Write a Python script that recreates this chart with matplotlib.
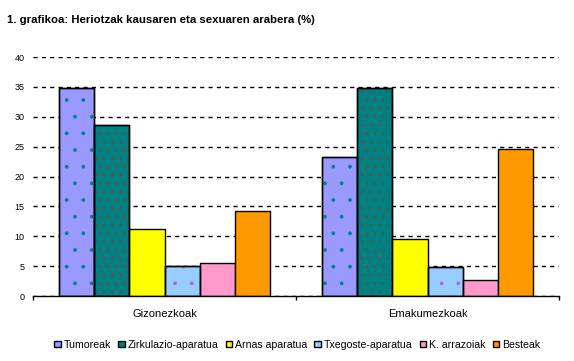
import numpy as np
import matplotlib.pyplot as plt
from matplotlib.patches import Patch

plt.rcParams['font.family'] = ['Liberation Sans', 'DejaVu Sans']
plt.rcParams['hatch.linewidth'] = 0.25

groups = ['Gizonezkoak', 'Emakumezkoak']
causes = ['Tumoreak', 'Zirkulazio-aparatua', 'Arnas aparatua',
          'Txegoste-aparatua', 'K. arrazoiak', 'Besteak']
men = [34.8, 28.6, 11.2, 5.1, 5.6, 14.3]
women = [23.2, 34.9, 9.5, 4.9, 2.7, 24.6]
colors = ['#9999FF', '#008080', '#FFFF00', '#99CCFF', '#FF99CC', '#FF9900']
hatch_cols = ['#008080', '#993333', None, '#9966FF', None, None]
hatches = ['.', '..', None, '.', None, None]

fig = plt.figure(figsize=(5.74, 3.61), dpi=100)
ax = fig.add_axes([0.0575, 0.18, 0.9165, 0.662])

width = 0.8 / 6
x = np.arange(len(groups))
for i, cause in enumerate(causes):
    vals = [men[i], women[i]]
    pos = x - 0.4 + width * (i + 0.5)
    ax.bar(pos, vals, width, color=colors[i], edgecolor='black', linewidth=1, zorder=3)
    if hatch_cols[i]:
        ax.bar(pos, vals, width, color='none', edgecolor=hatch_cols[i],
               linewidth=0, hatch=hatches[i], zorder=3.5)
        ax.bar(pos, vals, width, color='none', edgecolor='black', linewidth=1, zorder=3.6)

ax.set_xlim(-0.5, 1.5)
ax.set_ylim(0, 40)
ax.set_yticks(range(0, 41, 5))
ax.set_xticks([-0.5, 0.5, 1.5])
ax.set_xticklabels([])
ax.set_xticks(x, minor=True)
ax.set_xticklabels(groups, minor=True, fontsize=8)
ax.tick_params(axis='x', which='minor', length=0, pad=9)
ax.tick_params(axis='x', which='major', length=3, width=1, direction='out')
ax.tick_params(axis='y', length=0, labelsize=6.5, pad=6)
ax.yaxis.grid(True, linestyle=(0, (3, 3)), color='black', linewidth=1, zorder=0)
for s in ['top', 'right', 'left']:
    ax.spines[s].set_visible(False)
ax.spines['bottom'].set_linewidth(1)
ax.spines['bottom'].set_zorder(4)

fig.text(0.012, 0.935, '1. grafikoa: Heriotzak kausaren eta sexuaren arabera (%)',
         fontsize=8.2, fontweight='bold')

handles = [Patch(facecolor=c, edgecolor='black', linewidth=1) for c in colors]
fig.legend(handles, causes, loc='center', bbox_to_anchor=(0.518, 0.045), ncol=6,
           frameon=False, fontsize=7.6, handlelength=0.62, handleheight=0.62,
           handletextpad=0.3, columnspacing=0.65)

fig.savefig('out.png', dpi=100)
